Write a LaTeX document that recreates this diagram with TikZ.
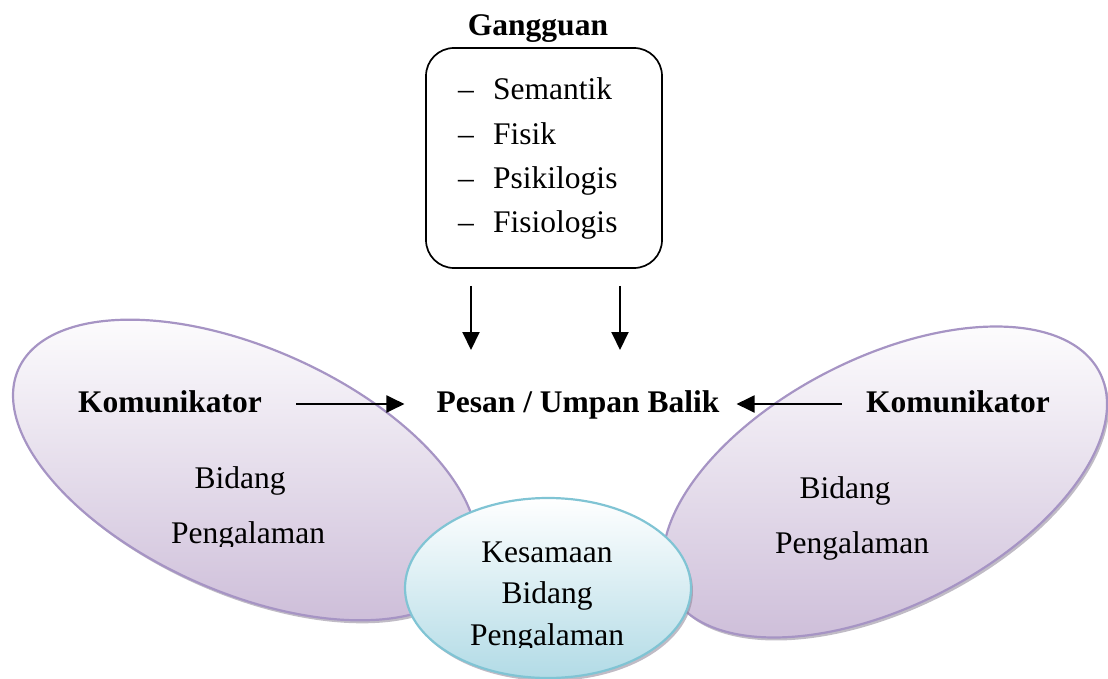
\documentclass[tikz,border=0pt]{standalone}
\usepackage{fontspec}
\setmainfont{Liberation Serif}
\usetikzlibrary{arrows.meta}
\definecolor{lavfill}{RGB}{204,188,216}
\definecolor{lavline}{RGB}{166,148,196}
\definecolor{aquafill}{RGB}{178,219,230}
\definecolor{aqualine}{RGB}{128,196,212}
\definecolor{rim}{RGB}{140,132,150}
\tikzset{
  txt/.style={font=\fontsize{31.5}{36}\selectfont, inner sep=0pt,
              text height=22pt, text depth=6pt, anchor=base},
  hd/.style={txt, font=\fontsize{31.5}{36}\selectfont\bfseries},
  item/.style={txt, anchor=base west},
  arr/.style={line width=2pt, -{Triangle[length=18pt,width=17pt]}},
  lav/.style={draw=lavline, line width=2.2pt, top color=white, bottom color=lavfill},
  aqua/.style={draw=aqualine, line width=2.2pt, top color=white, bottom color=aquafill},
  rimshadow/.style={fill=rim, opacity=0.55},
}
\begin{document}
\begin{tikzpicture}[x=1pt, y=-1pt]
\useasboundingbox (0,0) rectangle (1108,679);

% experience fields of the two communicators
\fill[rimshadow, rotate around={-24:(247,473)}] (247,473) ellipse [x radius=248pt, y radius=122pt];
\path[lav, rotate around={-24:(245,470)}] (245,470) ellipse [x radius=248pt, y radius=122pt];
\fill[rimshadow, rotate around={27:(887,485)}] (887,485) ellipse [x radius=241pt, y radius=124pt];
\path[lav, rotate around={27:(885,482)}] (885,482) ellipse [x radius=241pt, y radius=124pt];

% shared field of experience
\fill[rimshadow] (550,591) ellipse [x radius=143pt, y radius=90pt];
\path[aqua] (548,588) ellipse [x radius=143pt, y radius=90pt];

% noise box
\node[hd] (gangguan) at (538,36) {Gangguan};
\node[draw, line width=1.7pt, rounded corners=28pt, minimum width=236pt,
      minimum height=220pt, inner sep=0pt] (box) at (544,158) {};
\node[item] (d1) at (458,100) {–};
\node[item] (i1) at (493,100) {Semantik};
\node[item] (d2) at (458,145) {–};
\node[item] (i2) at (493,145) {Fisik};
\node[item] (d3) at (458,189) {–};
\node[item] (i3) at (493,189) {Psikilogis};
\node[item] (d4) at (458,233) {–};
\node[item] (i4) at (493,233) {Fisiologis};

% message line
\node[hd] (kl) at (170,412) {Komunikator};
\node[hd] (pesan) at (578,412) {Pesan / Umpan Balik};
\node[hd] (kr) at (958,412) {Komunikator};

\coordinate (n1s) at ([xshift=-73pt,yshift=-17pt]box.south);
\coordinate (n1e) at (471,350);
\coordinate (n2s) at ([xshift=76pt,yshift=-17pt]box.south);
\coordinate (n2e) at (620,350);
\draw[arr] (n1s) -- (n1e);
\draw[arr] (n2s) -- (n2e);
\draw[arr, shorten <=34pt, shorten >=32pt] (kl) -- (pesan);
\draw[arr, shorten <=24pt, shorten >=17pt] (kr) -- (pesan);

% field labels
\node[txt] (lb) at (240,488) {Bidang};
\begin{scope}
  \clip (120,505) rectangle (380,546);
  \node[txt] (lp) at (248,543) {Pengalaman};
\end{scope}
\node[txt] (rb) at (845,498) {Bidang};
\node[txt] (rp) at (852,553) {Pengalaman};

\node[txt] (ck) at (547,562) {Kesamaan};
\node[txt] (cb) at (547,603) {Bidang};
\begin{scope}
  \clip (420,612) rectangle (680,647);
  \node[txt] (cp) at (547,645) {Pengalaman};
\end{scope}
\end{tikzpicture}
\end{document}
